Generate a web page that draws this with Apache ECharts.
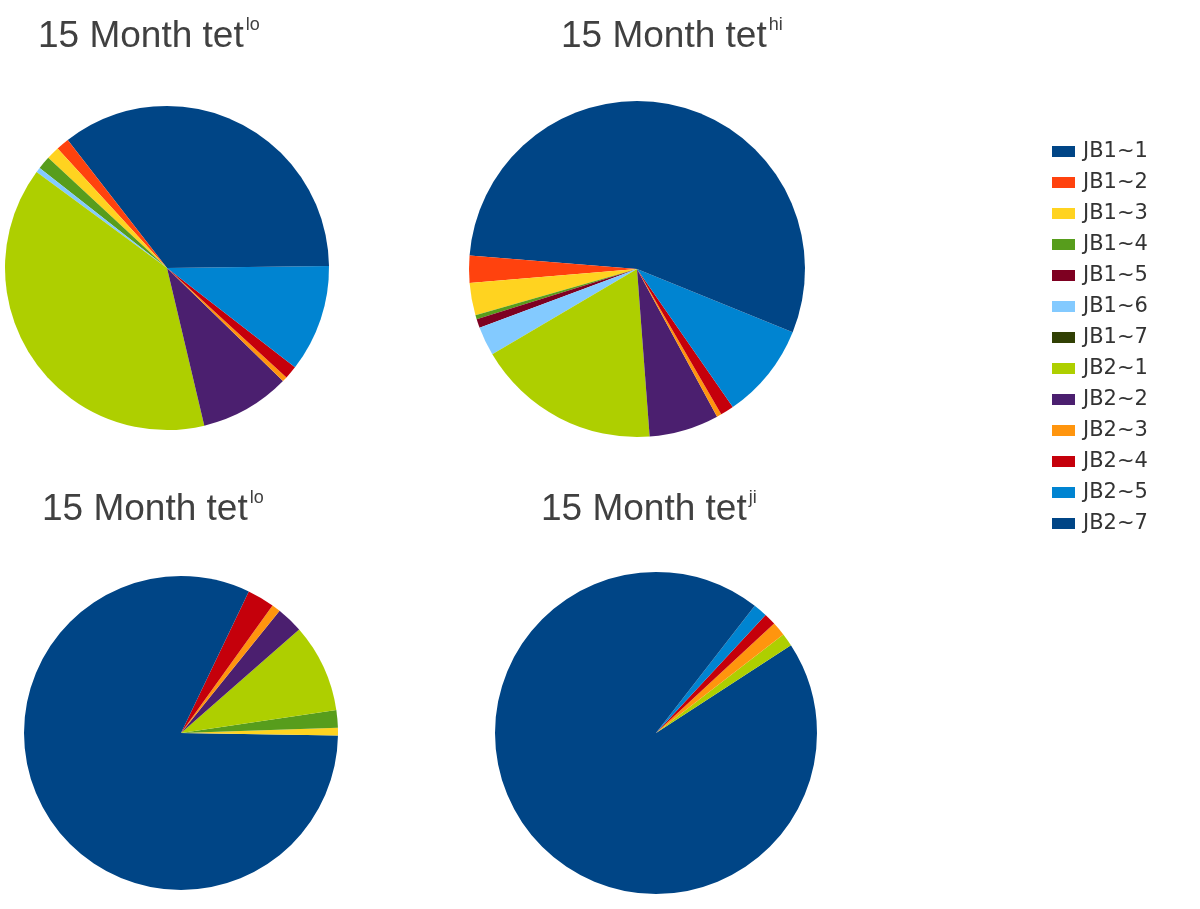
<!DOCTYPE html>
<html>
<head>
<meta charset="utf-8">
<script src="https://cdn.jsdelivr.net/npm/echarts@6/dist/echarts.min.js"></script>
<style>
  html, body { margin: 0; padding: 0; background: #fff; }
  #chart { width: 1200px; height: 909px; }
</style>
</head>
<body>
<div id="chart"></div>
<script>
// legend / slice order
const categories = ['JB1~1', 'JB1~2', 'JB1~3', 'JB1~4', 'JB1~5', 'JB1~6', 'JB1~7',
  'JB2~1', 'JB2~2', 'JB2~3', 'JB2~4', 'JB2~5', 'JB2~7']
const palette = ['#004586', '#ff420e', '#ffd320', '#579d1c', '#7e0021', '#83caff', '#314004',
  '#aecf00', '#4b1f6f', '#ff950e', '#c5000b', '#0084d1', '#004586']

// percentages
const tetLoTop = [10.5, 1.3, 1.3, 1.3, 0, 0.5, 0, 38.8, 9.0, 0.5, 1.3, 10.7, 24.8]
const tetHi = [23.7, 2.6, 3.1, 0.4, 0.85, 2.8, 0, 17.7, 6.7, 0.45, 1.3, 9.2, 31.1]
const tetLoBottom = [74.7, 0, 0.8, 1.8, 0, 0, 0, 9.1, 2.75, 0.9, 2.8, 0, 7.1]
const tetJi = [84.1, 0, 0, 0, 0, 0, 0, 1.3, 0, 1.4, 1.2, 1.4, 10.5]

const titleSups = ['lo', 'hi', 'lo', 'ji']

const chart = echarts.init(document.getElementById('chart'))

const titleRich = {
  m: { fontSize: 37, lineHeight: 42, fontWeight: 'normal', color: '#404040', fontFamily: 'Liberation Sans' },
  s: { fontSize: 18, lineHeight: 27, fontWeight: 'normal', color: '#404040', fontFamily: 'Liberation Sans', verticalAlign: 'top', padding: [0, 0, 0, 2] }
}

const makeTitle = (sup, left, top) => ({
  text: '{m|15 Month tet}{s|' + sup + '}',
  left, top,
  padding: 0,
  textStyle: { fontWeight: 'normal', rich: titleRich }
})

const makePie = (values, center, radius) => ({
  type: 'pie',
  center,
  radius,
  startAngle: 90,
  clockwise: false,
  animation: false,
  label: { show: false },
  labelLine: { show: false },
  emphasis: { disabled: true },
  itemStyle: { borderWidth: 0 },
  data: values.map((v, i) => ({
    name: categories[i],
    value: v,
    itemStyle: { color: palette[i] }
  }))
})

const option = {
  animation: false,
  title: [
    makeTitle(titleSups[0], 38, 16),
    makeTitle(titleSups[1], 561, 16),
    makeTitle(titleSups[2], 42, 489),
    makeTitle(titleSups[3], 541, 489)
  ],
  legend: {
    orient: 'vertical',
    left: 1047,
    top: 136,
    itemWidth: 23,
    itemHeight: 11,
    itemGap: 10,
    icon: 'rect',
    selectedMode: false,
    data: categories,
    textStyle: {
      fontSize: 21,
      lineHeight: 20,
      color: '#333',
      fontFamily: 'DejaVu Sans',
      padding: [0, 0, 0, 3]
    }
  },
  series: [
    makePie(tetLoTop, [167, 268], 162),
    makePie(tetHi, [637, 269], 168),
    makePie(tetLoBottom, [181, 733], 157),
    makePie(tetJi, [656, 733], 161)
  ]
}

chart.setOption(option)
</script>
</body>
</html>
